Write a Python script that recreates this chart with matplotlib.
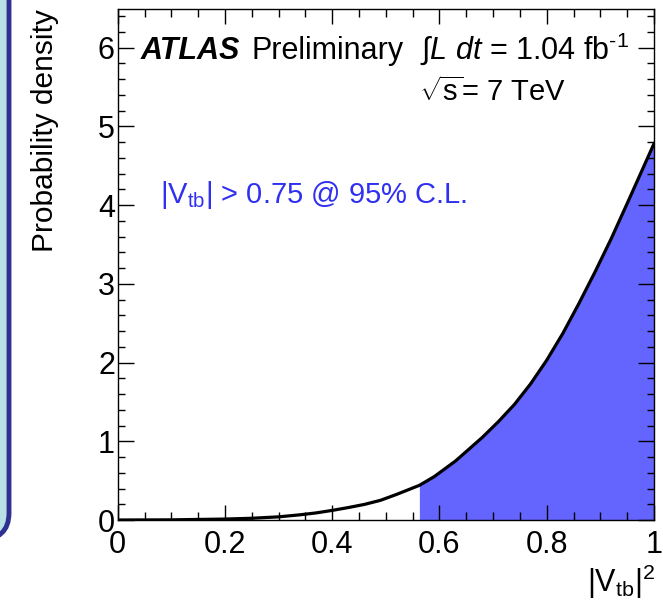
import matplotlib
matplotlib.use("Agg")
import matplotlib.pyplot as plt
from matplotlib.patches import FancyBboxPatch
from matplotlib.ticker import MultipleLocator

plt.rcParams['font.family'] = ['Liberation Sans', 'DejaVu Sans']
plt.rcParams['mathtext.fontset'] = 'custom'
plt.rcParams['mathtext.rm'] = 'Liberation Sans'
plt.rcParams['mathtext.it'] = 'Liberation Sans:italic'
plt.rcParams['mathtext.bf'] = 'Liberation Sans:bold'

# data
vtb2 = [0.0, 0.10, 0.20, 0.25, 0.30, 0.34, 0.37, 0.40, 0.43, 0.46, 0.49, 0.52,
        0.5625, 0.59, 0.61, 0.63, 0.655, 0.68, 0.71, 0.74, 0.77, 0.80, 0.83,
        0.86, 0.89, 0.92, 0.95, 0.975, 1.0]
density = [0.0, 0.002, 0.012, 0.022, 0.04, 0.066, 0.09, 0.122, 0.158, 0.198, 0.25, 0.325,
           0.44, 0.55, 0.65, 0.75, 0.90, 1.05, 1.25, 1.47, 1.73, 2.03, 2.37,
           2.75, 3.15, 3.57, 4.02, 4.40, 4.78]
cl_cut = 0.5625
x_ticks = [0, 0.2, 0.4, 0.6, 0.8, 1]
x_ticklabels = ['0', '0.2', '0.4', '0.6', '0.8', '1']
y_ticks = [0, 1, 2, 3, 4, 5, 6]

W, H = 663, 601
fig = plt.figure(figsize=(W / 100, H / 100), dpi=100)
fig.patch.set_facecolor('white')

# slide panel at the left
panel = FancyBboxPatch((-120 / W, (H - 540) / H), 129 / W, 700 / H,
                       boxstyle="round,pad=0,rounding_size=0.045",
                       transform=fig.transFigure, facecolor='#b9e0e5',
                       edgecolor='#2e3192', linewidth=3.5, zorder=0)
fig.patches.append(panel)

ax = fig.add_axes([117.7 / W, (H - 520) / H, (654 - 117.7) / W, (520 - 9) / H])
ax.set_xlim(0, 1)
ax.set_ylim(0, 6.49)

mask = [v >= cl_cut for v in vtb2]
ax.fill_between(vtb2, density, 0, where=mask, color='#6464ff', linewidth=0, zorder=1)
ax.plot(vtb2, density, color='black', linewidth=2.3, zorder=2)

ax.set_xticks(x_ticks)
ax.set_xticklabels(x_ticklabels)
ax.set_yticks(y_ticks)
ax.xaxis.set_minor_locator(MultipleLocator(0.05))
ax.yaxis.set_minor_locator(MultipleLocator(0.2))
ax.tick_params(which='both', direction='in', top=True, right=True, labelsize=22, width=1.0)
ax.tick_params(axis='x', which='major', length=11, pad=7)
ax.tick_params(axis='x', which='minor', length=5.5)
ax.tick_params(axis='y', which='major', length=11.5, pad=2)
ax.tick_params(axis='y', which='minor', length=5)
for s in ax.spines.values():
    s.set_linewidth(1.0)

ax.set_ylabel('Probability density', fontsize=21.5, loc='top', labelpad=28)
fig.text(655 / W, 1 - 592 / H, r'$|\mathrm{V}_{\mathrm{tb}}|^{2}$', fontsize=22,
         ha='right', va='baseline')

fig.text(141 / W, 1 - 59 / H, 'ATLAS', fontsize=22, fontweight='bold', fontstyle='italic',
         ha='left', va='baseline')
fig.text(252 / W, 1 - 59 / H, 'Preliminary', fontsize=22, ha='left', va='baseline')
fig.text(420 / W, 1 - 59 / H, r'∫$\mathit{L}\ \mathit{dt}$ = 1.04 fb$^{\text{-1}}$', fontsize=22,
         ha='left', va='baseline')
fig.text(419 / W, 1 - 101 / H, r'$\sqrt{\mathrm{s}}$= 7 TeV', fontsize=21, ha='left', va='baseline')
fig.text(160 / W, 1 - 203 / H, r'$|\mathrm{V}_{\mathrm{tb}}|$ > 0.75 @ 95% C.L.', fontsize=21,
         color='#3030f0', ha='left', va='baseline')

fig.savefig('out.png', dpi=100)
